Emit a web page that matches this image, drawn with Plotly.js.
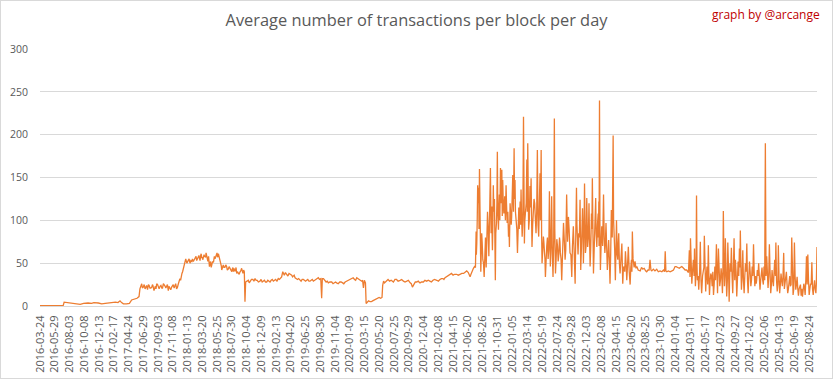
<!DOCTYPE html>
<html>
<head>
<meta charset="utf-8">
<script src="https://cdn.plot.ly/plotly-3.0.1.min.js"></script>
<style>
  html, body { margin: 0; padding: 0; background: #ffffff; }
  #chart { width: 831px; height: 377px; border: 1px solid #d9d9d9; }
</style>
</head>
<body>
<div id="chart"></div>
<script>
// ---- Data (main readings) ----
const datesEarly = ["2016-03-24","2016-04-20","2016-05-20","2016-06-20","2016-07-06","2016-07-10","2016-07-25","2016-08-10","2016-08-25","2016-09-10","2016-09-20","2016-10-05","2016-10-25","2016-11-10","2016-11-20","2016-12-10","2016-12-25","2017-01-10","2017-01-25","2017-02-10","2017-02-25","2017-03-08","2017-03-17","2017-03-24","2017-04-01","2017-04-15","2017-04-28","2017-05-08","2017-05-20","2017-06-01","2017-06-10","2017-06-14",
"2017-06-22","2017-06-29","2017-07-07","2017-07-14","2017-07-22","2017-07-29","2017-08-06","2017-08-11","2017-08-16","2017-08-22","2017-08-28","2017-09-05","2017-09-12","2017-09-20","2017-09-27","2017-10-05","2017-10-12","2017-10-19","2017-10-26","2017-11-03","2017-11-10","2017-11-18","2017-11-25","2017-12-03","2017-12-10","2017-12-16","2017-12-22","2017-12-28","2018-01-02","2018-01-10","2018-01-17","2018-01-24","2018-02-01","2018-02-08","2018-02-16","2018-02-23","2018-03-03","2018-03-08","2018-03-13","2018-03-18","2018-03-22","2018-03-28","2018-04-02","2018-04-06","2018-04-12","2018-04-17","2018-04-21","2018-04-26","2018-05-01","2018-05-09","2018-05-16","2018-05-23","2018-05-27","2018-05-31","2018-06-04","2018-06-07","2018-06-11","2018-06-15","2018-06-22","2018-06-29","2018-07-07","2018-07-14","2018-07-22","2018-07-30","2018-08-04","2018-08-09","2018-08-15","2018-08-21","2018-08-28","2018-09-05","2018-09-12","2018-09-18","2018-09-24","2018-09-27","2018-09-30"];
const valsEarly = [0.5,0.6,0.5,0.6,0.7,4.5,4,3.5,3.5,3,2,3,3.5,3,4,3.5,2.5,3,3.5,4,4.5,4,6,4,2.5,2.5,3,7,8,9,11,20,
26,22,20,24,25,21,22,24,18,23,26,22,23,21,26,23,24,18,21,22,25,24,20,26,32,36,40,48,53,50,54,50,52,52,56,53,57,55,59,56,54,60,57,62,55,58,46,52,48,51,55,60,57,61,56,54,50,42,48,45,46,43,44,40,45,44,41,38,39,40,44,38,40,5,28];

const datesMid = ["2018-10-06","2018-10-12","2018-10-20","2018-11-01","2018-11-11","2018-11-21","2018-12-03","2018-12-13","2018-12-23","2019-01-02","2019-01-12","2019-01-22","2019-02-01","2019-02-11","2019-02-23","2019-03-05","2019-03-15","2019-03-22","2019-04-02","2019-04-12","2019-04-24","2019-05-01","2019-05-09","2019-05-20","2019-05-31","2019-06-10","2019-06-20","2019-06-30","2019-07-10","2019-07-20","2019-07-30","2019-08-10","2019-08-21","2019-09-01","2019-09-05","2019-09-08","2019-09-13","2019-09-25","2019-10-05","2019-10-20","2019-11-01","2019-11-11","2019-11-25","2019-12-08","2019-12-19","2020-01-01","2020-01-18","2020-01-30","2020-02-09","2020-02-20","2020-03-02","2020-03-06","2020-03-10","2020-03-14","2020-03-19","2020-03-22","2020-03-30","2020-04-09","2020-04-20","2020-05-01","2020-05-12","2020-05-26","2020-06-01","2020-06-04","2020-06-12","2020-06-22","2020-07-05","2020-07-22","2020-08-05","2020-08-21","2020-09-05","2020-09-20","2020-10-05","2020-10-15","2020-10-22","2020-11-03","2020-11-18","2020-12-03","2020-12-18","2021-01-01","2021-01-15","2021-02-01","2021-02-15","2021-03-01","2021-03-10","2021-03-20","2021-04-02","2021-04-15","2021-05-01","2021-05-16","2021-06-01","2021-06-15","2021-06-30","2021-07-08","2021-07-15","2021-07-24"];
const valsMid = [29,30,29,31,32,30,29,28,30,28,29,30,29,31,32,33,40,36,37,38,36,35,33,31,30,31,30,30,29,30,29,31,33,32,9,32,32,28,27,28,27,27,28,27,28,30,32,31,33,31,29,30,21,30,27,3,5,5,6,8,9,9,10,24,27,30,29,28,31,30,29,29,27,22,26,28,27,28,29,29,30,30,31,32,33,35,37,36,37,37,38,41,34,40,44,45];

const datesBoom = ["2021-07-27","2021-07-30","2021-08-03","2021-08-08","2021-08-11","2021-08-14","2021-08-17","2021-08-21","2021-08-26","2021-09-01","2021-09-05","2021-09-10","2021-09-16","2021-09-22","2021-09-29","2021-10-05","2021-10-08","2021-10-12","2021-10-17","2021-10-21","2021-10-26","2021-10-30","2021-11-04","2021-11-08","2021-11-13","2021-11-19","2021-11-23","2021-11-28","2021-12-02","2021-12-08","2021-12-13","2021-12-19","2021-12-23","2021-12-29","2022-01-02","2022-01-07","2022-01-13","2022-01-17","2022-01-22","2022-01-28","2022-02-01","2022-02-05","2022-02-09","2022-02-13","2022-02-18","2022-02-24","2022-02-28","2022-03-05","2022-03-11","2022-03-15","2022-03-19","2022-03-25","2022-03-30","2022-04-03","2022-04-09","2022-04-15","2022-04-21","2022-04-27","2022-05-03","2022-05-09","2022-05-14","2022-05-18","2022-05-24","2022-05-29","2022-06-02","2022-06-08","2022-06-14","2022-06-20","2022-06-24","2022-06-30","2022-07-06","2022-07-12","2022-07-17","2022-07-23","2022-07-29","2022-08-04","2022-08-08","2022-08-14","2022-08-22","2022-08-29","2022-09-05","2022-09-13","2022-09-20","2022-09-28","2022-10-05","2022-10-13","2022-10-19","2022-10-23","2022-10-29","2022-11-04","2022-11-07","2022-11-15","2022-11-19","2022-11-24","2022-11-28","2022-12-04","2022-12-08","2022-12-14","2022-12-19","2022-12-25","2022-12-29","2023-01-03","2023-01-09","2023-01-13","2023-01-18","2023-01-24","2023-01-27","2023-01-30","2023-02-03","2023-02-09","2023-02-13","2023-02-17","2023-02-23","2023-02-28","2023-03-06","2023-03-12","2023-03-18","2023-03-24","2023-04-01","2023-04-05","2023-04-11","2023-04-16","2023-04-22","2023-04-26","2023-05-02","2023-05-10","2023-05-14","2023-05-20","2023-05-26","2023-06-01","2023-06-08","2023-06-16","2023-06-22","2023-06-26","2023-07-01"];
const valsBoom = [87,73,141,138,160,132,40,85,54,34,73,45,110,58,161,116,65,141,125,30,97,180,89,130,161,159,147,108,128,141,97,81,69,108,104,153,184,147,100,62,104,90,122,136,81,221,73,114,171,190,89,140,149,69,108,120,85,182,81,155,182,50,81,62,34,70,55,134,46,128,34,219,38,78,52,80,62,30,97,54,130,104,62,34,93,26,138,69,85,124,42,114,50,143,62,126,69,120,46,108,149,38,100,126,69,108,122,240,42,93,70,130,62,97,42,77,26,112,199,69,30,100,54,85,38,73,26,46,64,30,69,25,54,87,46];

const datesLate = ["2023-07-08","2023-07-12","2023-07-16","2023-07-22","2023-07-31","2023-08-06","2023-08-12","2023-08-18","2023-08-24","2023-08-29","2023-09-04","2023-09-09","2023-09-13","2023-09-17","2023-09-21","2023-09-28","2023-10-05","2023-10-13","2023-10-20","2023-10-28","2023-11-05","2023-11-12","2023-11-17","2023-11-20","2023-11-23","2023-11-27","2023-12-04","2023-12-12","2023-12-20","2023-12-27","2024-01-03","2024-01-08","2024-01-15","2024-01-22","2024-01-26","2024-02-02","2024-02-10","2024-02-17","2024-02-24","2024-03-03","2024-03-07","2024-03-10","2024-03-12","2024-03-18","2024-03-25","2024-03-30","2024-04-03","2024-04-08","2024-04-12","2024-04-18","2024-04-25","2024-05-01","2024-05-09","2024-05-13","2024-05-19","2024-05-25","2024-05-31","2024-06-05","2024-06-11","2024-06-17","2024-06-23","2024-06-29","2024-07-06","2024-07-11","2024-07-15","2024-07-21","2024-07-27","2024-08-02","2024-08-06","2024-08-11","2024-08-15","2024-08-21","2024-08-26","2024-09-01","2024-09-05","2024-09-11","2024-09-17","2024-09-23","2024-09-29","2024-10-05","2024-10-11","2024-10-17","2024-10-21","2024-10-26","2024-11-01","2024-11-07","2024-11-13","2024-11-19","2024-11-25","2024-12-01","2024-12-07","2024-12-13","2024-12-19","2024-12-25","2024-12-31","2025-01-05","2025-01-11","2025-01-17","2025-01-23","2025-01-29","2025-02-04","2025-02-10","2025-02-16","2025-02-22","2025-02-28","2025-03-06","2025-03-12","2025-03-18","2025-03-24","2025-03-29","2025-04-04","2025-04-09","2025-04-15","2025-04-21","2025-04-27","2025-05-03","2025-05-09","2025-05-15","2025-05-21","2025-05-27","2025-06-02","2025-06-08","2025-06-14","2025-06-20","2025-06-26","2025-07-02","2025-07-08","2025-07-14","2025-07-20","2025-07-26","2025-08-01","2025-08-07","2025-08-13","2025-08-19","2025-08-25","2025-08-31","2025-09-06","2025-09-12","2025-09-18","2025-09-24","2025-09-29"];
const valsLate = [52,44,46,42,41,45,43,44,41,40,42,42,54,42,41,43,41,43,40,41,40,42,40,64,41,40,41,40,41,42,46,46,45,44,45,46,44,42,42,39,65,34,79,26,54,67,23,129,30,19,75,15,42,82,17,46,71,13,38,23,13,46,72,15,67,23,44,15,111,23,79,11,74,5,50,68,15,79,54,11,52,67,88,19,65,15,50,73,15,52,23,46,72,23,26,42,50,19,38,30,46,190,58,21,72,15,42,23,54,74,17,71,15,38,23,62,26,40,15,30,23,80,13,74,19,34,12,25,12,11,26,13,58,60,13,26,51,13,30,15,69];

// ---- Extra readings in between (the dense band of daily values) ----
const dates2017Band = ["2017-06-25","2017-07-03","2017-07-10","2017-07-18","2017-07-25","2017-08-02","2017-08-09","2017-08-19","2017-08-25","2017-09-01","2017-09-08","2017-09-16","2017-09-23","2017-10-01","2017-10-08","2017-10-15","2017-10-22","2017-10-30","2017-11-06","2017-11-14","2017-11-21","2017-11-29","2017-12-06","2017-12-13","2017-12-19","2017-12-25","2018-01-05","2018-01-13","2018-01-20","2018-01-28","2018-02-04","2018-02-12","2018-02-20","2018-02-27","2018-03-05","2018-03-10","2018-03-15","2018-03-20","2018-03-25","2018-03-30","2018-04-04","2018-04-09","2018-04-14","2018-04-19","2018-04-23","2018-04-29","2018-05-05","2018-05-13","2018-05-19","2018-05-25","2018-05-29","2018-06-02","2018-06-09","2018-06-13","2018-06-18","2018-06-25","2018-07-03","2018-07-10","2018-07-18","2018-07-26","2018-08-01","2018-08-06","2018-08-12","2018-08-18","2018-08-24","2018-09-01","2018-09-08","2018-09-15","2018-09-21"];
const vals2017Band = [21,25,22,19,24,21,25,22,20,25,20,24,21,25,21,25,23,19,24,21,26,22,28,30,38,44,55,52,55,53,55,54,58,55,59,53,61,57,56,58,57,59,52,50,49,45,52,58,57,62,58,59,51,47,46,45,48,42,46,42,43,40,41,45,40,37,41,39,42];

const datesMidBand = ["2018-10-16","2018-10-26","2018-11-06","2018-11-16","2018-11-26","2018-12-08","2018-12-18","2018-12-28","2019-01-07","2019-01-17","2019-01-27","2019-02-06","2019-02-17","2019-02-28","2019-03-10","2019-03-18","2019-03-27","2019-04-07","2019-04-18","2019-04-28","2019-05-05","2019-05-14","2019-05-25","2019-06-05","2019-06-15","2019-06-25","2019-07-05","2019-07-15","2019-07-25","2019-08-05","2019-08-15","2019-08-26","2019-09-18","2019-09-30","2019-10-12","2019-10-26","2019-11-06","2019-11-18","2019-12-01","2019-12-13","2019-12-25","2020-01-10","2020-01-24","2020-02-04","2020-02-14","2020-02-26","2020-04-02","2020-04-14","2020-04-26","2020-05-06","2020-05-19","2020-06-08","2020-06-17","2020-06-28","2020-07-12","2020-07-29","2020-08-12","2020-08-28","2020-09-12","2020-09-27","2020-10-10","2020-10-28","2020-11-10","2020-11-25","2020-12-10","2020-12-25","2021-01-08","2021-01-22","2021-02-08","2021-02-22","2021-03-05","2021-03-15","2021-03-27","2021-04-08","2021-04-22","2021-05-08","2021-05-24","2021-06-08","2021-06-22","2021-07-04","2021-07-11","2021-07-20"];
const valsMidBand = [27,31,29,30,28,31,29,28,30,28,31,30,29,31,34,37,39,35,37,34,36,32,32,29,31,29,31,29,31,30,32,31,30,29,28,26,28,26,28,26,29,31,33,30,32,30,6,5,7,8,10,29,28,31,30,31,29,31,28,30,26,28,29,28,30,30,28,31,29,32,31,34,36,38,37,36,38,40,39,37,42,46];

const datesBoomBand = ["2021-07-28","2021-08-01","2021-08-05","2021-08-09","2021-08-12","2021-08-15","2021-08-19","2021-08-23","2021-08-29","2021-09-03","2021-09-07","2021-09-13","2021-09-19","2021-09-25","2021-10-02","2021-10-06","2021-10-10","2021-10-14","2021-10-19","2021-10-23","2021-10-28","2021-11-01","2021-11-06","2021-11-10","2021-11-16","2021-11-21","2021-11-25","2021-11-30","2021-12-05","2021-12-10","2021-12-16","2021-12-21","2021-12-26","2021-12-31","2022-01-04","2022-01-10","2022-01-15","2022-01-19","2022-01-25","2022-01-30","2022-02-03","2022-02-07","2022-02-11","2022-02-15","2022-02-21","2022-02-26","2022-03-02","2022-03-08","2022-03-13","2022-03-17","2022-03-22","2022-03-27","2022-04-01","2022-04-06","2022-04-12","2022-04-18","2022-04-24","2022-04-30","2022-05-06","2022-05-11","2022-05-16","2022-05-21","2022-05-26","2022-05-31","2022-06-05","2022-06-11","2022-06-17","2022-06-22","2022-06-27","2022-07-03","2022-07-09","2022-07-14","2022-07-20","2022-07-26","2022-08-01","2022-08-06","2022-08-11","2022-08-18","2022-08-25","2022-09-01","2022-09-09","2022-09-16","2022-09-24","2022-10-01","2022-10-09","2022-10-16","2022-10-21","2022-10-26","2022-11-01","2022-11-05","2022-11-11","2022-11-17","2022-11-21","2022-11-26","2022-12-01","2022-12-06","2022-12-11","2022-12-16","2022-12-22","2022-12-27","2023-01-01","2023-01-06","2023-01-11","2023-01-15","2023-01-21","2023-01-25","2023-01-28","2023-02-01","2023-02-06","2023-02-11","2023-02-15","2023-02-20","2023-02-25","2023-03-03","2023-03-09","2023-03-15","2023-03-21","2023-03-28","2023-04-03","2023-04-08","2023-04-13","2023-04-19","2023-04-24","2023-04-29","2023-05-06","2023-05-12","2023-05-17","2023-05-23","2023-05-29","2023-06-04","2023-06-12","2023-06-19","2023-06-24","2023-06-29","2023-07-04"];
const valsBoomBand = [60,100,120,90,140,70,60,75,50,60,80,70,90,100,85,90,95,110,80,85,120,110,115,100,120,105,125,115,100,120,110,95,120,95,120,110,125,110,90,85,115,100,95,110,100,120,100,120,110,130,100,115,105,95,125,100,110,95,120,100,85,65,75,55,60,80,65,90,70,60,75,90,55,70,60,75,55,70,80,65,75,90,60,70,60,85,95,60,80,70,75,90,75,95,70,95,80,85,70,90,80,65,90,85,95,80,70,95,70,85,95,80,70,75,60,55,60,80,100,65,70,60,75,50,55,50,45,40,50,45,40,45,40,55,45];

const datesLateBand = ["2024-03-15","2024-03-21","2024-03-28","2024-04-01","2024-04-06","2024-04-10","2024-04-15","2024-04-22","2024-04-28","2024-05-05","2024-05-11","2024-05-16","2024-05-22","2024-05-28","2024-06-02","2024-06-08","2024-06-14","2024-06-20","2024-06-26","2024-07-02","2024-07-09","2024-07-13","2024-07-18","2024-07-24","2024-07-30","2024-08-04","2024-08-09","2024-08-13","2024-08-18","2024-08-24","2024-08-29","2024-09-03","2024-09-08","2024-09-14","2024-09-20","2024-09-26","2024-10-02","2024-10-08","2024-10-14","2024-10-19","2024-10-24","2024-10-29","2024-11-04","2024-11-10","2024-11-16","2024-11-22","2024-11-28","2024-12-04","2024-12-10","2024-12-16","2024-12-22","2024-12-28","2025-01-02","2025-01-08","2025-01-14","2025-01-20","2025-01-26","2025-02-01","2025-02-07","2025-02-13","2025-02-19","2025-02-25","2025-03-03","2025-03-09","2025-03-15","2025-03-21","2025-03-27","2025-04-01","2025-04-07","2025-04-12","2025-04-18","2025-04-24","2025-04-30","2025-05-06","2025-05-12","2025-05-18","2025-05-24","2025-05-30","2025-06-05","2025-06-11","2025-06-17","2025-06-23","2025-06-29","2025-07-05","2025-07-11","2025-07-17","2025-07-23","2025-07-29","2025-08-04","2025-08-10","2025-08-16","2025-08-22","2025-08-28","2025-09-03","2025-09-09","2025-09-15","2025-09-21","2025-09-26"];
const valsLateBand = [45,40,35,45,40,50,35,40,30,35,45,30,35,25,40,30,35,40,25,30,35,40,45,30,35,40,45,35,40,30,45,30,40,35,45,30,40,30,35,45,40,35,30,35,40,30,35,40,30,35,40,35,30,35,25,30,45,25,30,35,30,35,40,25,30,40,35,30,25,35,25,30,35,20,30,25,20,35,25,30,20,35,25,20,20,25,20,18,22,30,25,30,20,25,20,22,20,25];

const tickLabels = ["2016-03-24","2016-05-29","2016-08-03","2016-10-08","2016-12-13","2017-02-17","2017-04-24","2017-06-29","2017-09-03","2017-11-08","2018-01-13","2018-03-20","2018-05-25","2018-07-30","2018-10-04","2018-12-09","2019-02-13","2019-04-20","2019-06-25","2019-08-30","2019-11-04","2020-01-09","2020-03-15","2020-05-20","2020-07-25","2020-09-29","2020-12-04","2021-02-08","2021-04-15","2021-06-20","2021-08-26","2021-10-31","2022-01-05","2022-03-14","2022-05-19","2022-07-24","2022-09-28","2022-12-03","2023-02-08","2023-04-15","2023-06-20","2023-08-25","2023-10-30","2024-01-04","2024-03-11","2024-05-17","2024-07-23","2024-09-27","2024-12-02","2025-02-06","2025-04-13","2025-06-19","2025-08-24"];
const yTicks = [0,50,100,150,200,250,300];

// ---- Merge all readings in date order ----
const allDates = [datesEarly, datesMid, datesBoom, datesLate, dates2017Band, datesMidBand, datesBoomBand, datesLateBand];
const allVals  = [valsEarly, valsMid, valsBoom, valsLate, vals2017Band, valsMidBand, valsBoomBand, valsLateBand];
const pairs = [];
allDates.forEach((ds, k) => ds.forEach((d, i) => pairs.push([d, allVals[k][i]])));
pairs.sort((a, b) => (a[0] < b[0] ? -1 : a[0] > b[0] ? 1 : 0));
const xs = pairs.map(p => p[0]);
const ys = pairs.map(p => p[1]);

const trace = {
  type: 'scatter', mode: 'lines', x: xs, y: ys,
  line: { color: '#ED7D31', width: 1.3 },
  hoverinfo: 'x+y'
};

const grey = '#595959';
const layout = {
  width: 831, height: 377,
  margin: { l: 39, r: 15, t: 48, b: 72 },
  paper_bgcolor: '#ffffff', plot_bgcolor: '#ffffff',
  showlegend: false,
  title: {
    text: 'Average number of transactions per block per day',
    font: { family: 'Open Sans, sans-serif', size: 16.4, color: grey },
    x: 0.5, xanchor: 'center', xref: 'container',
    y: 0.95, yanchor: 'middle', yref: 'container'
  },
  xaxis: {
    type: 'date',
    range: ['2016-03-24', '2025-09-29'],
    tickmode: 'array', tickvals: tickLabels, ticktext: tickLabels,
    tickangle: -90,
    tickfont: { family: 'Open Sans, sans-serif', size: 11, color: grey },
    showgrid: false, zeroline: false,
    showline: true, linecolor: '#d9d9d9', linewidth: 1,
    ticks: 'outside', ticklen: 4, tickcolor: 'rgba(0,0,0,0)',
    fixedrange: true
  },
  yaxis: {
    range: [0, 300],
    tickmode: 'array', tickvals: yTicks,
    tickfont: { family: 'Open Sans, sans-serif', size: 10.5, color: grey },
    showgrid: true, gridcolor: '#d9d9d9', gridwidth: 1,
    zeroline: false, showline: false,
    ticks: 'outside', ticklen: 9, tickcolor: 'rgba(0,0,0,0)',
    fixedrange: true
  },
  annotations: [{
    text: 'graph by @arcange', showarrow: false,
    xref: 'paper', yref: 'paper', x: 1.0064, y: 1.136,
    xanchor: 'right', yanchor: 'middle',
    font: { family: 'Open Sans, sans-serif', size: 12, color: '#C00000' }
  }]
};

Plotly.newPlot('chart', [trace], layout, { displayModeBar: false, staticPlot: true });
</script>
</body>
</html>
